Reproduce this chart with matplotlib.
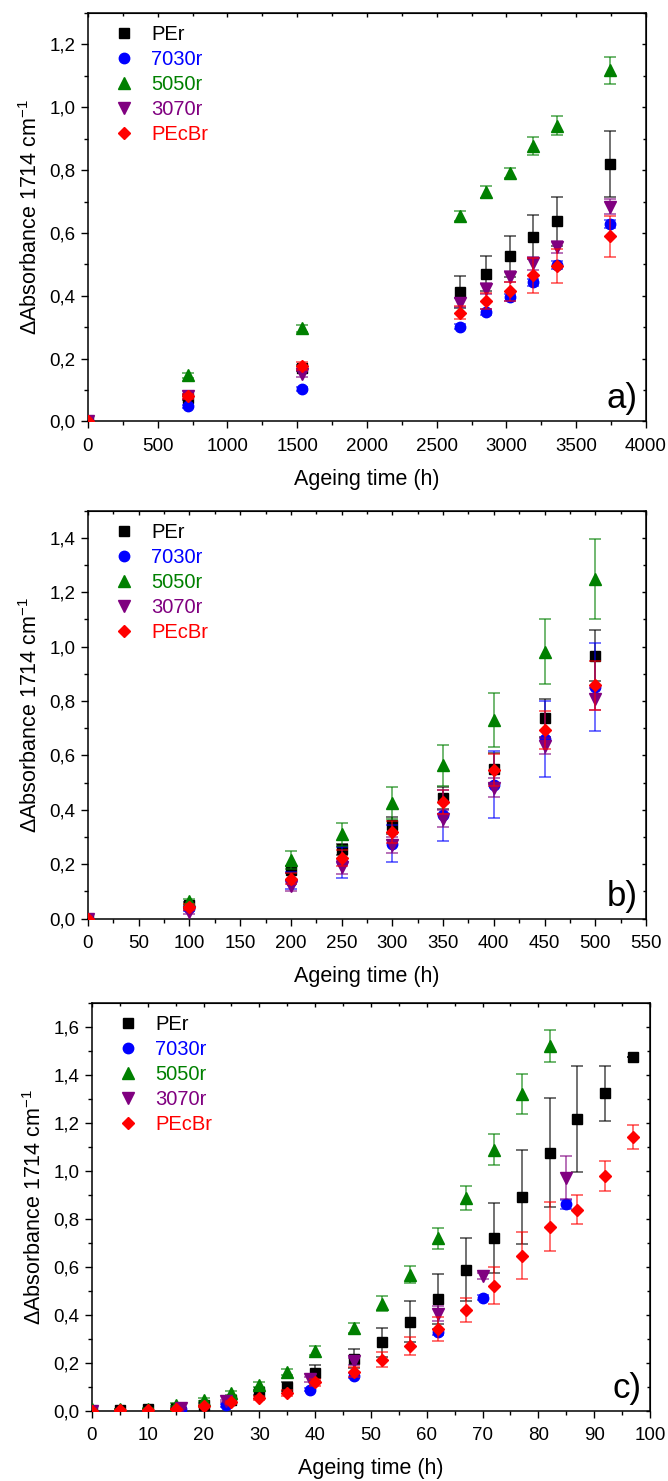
import numpy as np
import matplotlib
matplotlib.use('Agg')
import matplotlib.pyplot as plt
from matplotlib.lines import Line2D
from matplotlib.ticker import MultipleLocator, FuncFormatter
from matplotlib.colors import to_rgba

plt.rcParams['font.family'] = ['Liberation Sans', 'DejaVu Sans']
plt.rcParams['mathtext.fontset'] = 'custom'
plt.rcParams['mathtext.rm'] = 'Liberation Sans'
plt.rcParams['mathtext.it'] = 'Liberation Sans:italic'

# --- series styling (Origin-like) ---
names = ['PEr', '7030r', '5050r', '3070r', 'PEcBr']
colors = ['#000000', '#0000FF', '#008000', '#800080', '#FF0000']
markers = ['s', 'o', '^', 'v', 'D']
msizes = [7.0, 7.5, 8.5, 8.5, 6.5]

# --- panel a) : long ageing times ---
ta = [0, 720, 1536, 2664, 2856, 3024, 3192, 3360, 3744]
a_PEr = [0, 0.075, 0.17, 0.412, 0.471, 0.526, 0.586, 0.638, 0.819]
a_PEr_err = [0, 0.008, 0.01, 0.05, 0.056, 0.065, 0.07, 0.078, 0.104]
a_7030 = [0, 0.048, 0.104, 0.302, 0.348, 0.395, 0.443, 0.498, 0.629]
a_7030_err = [0, 0.005, 0.006, 0.008, 0.01, 0.012, 0.012, 0.012, 0.012]
a_5050 = [0, 0.147, 0.296, 0.654, 0.730, 0.791, 0.876, 0.941, 1.118]
a_5050_err = [0, 0.008, 0.012, 0.015, 0.018, 0.017, 0.028, 0.03, 0.043]
a_3070 = [0, 0.08, 0.152, 0.378, 0.423, 0.461, 0.503, 0.556, 0.684]
a_3070_err = [0, 0.008, 0.01, 0.015, 0.018, 0.018, 0.02, 0.02, 0.025]
a_PEcBr = [0, 0.08, 0.177, 0.346, 0.383, 0.414, 0.465, 0.495, 0.589]
a_PEcBr_err = [0, 0.008, 0.012, 0.02, 0.025, 0.03, 0.055, 0.054, 0.065]

# --- panel b) ---
tb = [0, 100, 200, 250, 300, 350, 400, 450, 500]
b_PEr = [0, 0.05, 0.18, 0.255, 0.343, 0.445, 0.552, 0.738, 0.967]
b_PEr_err = [0, 0.01, 0.012, 0.02, 0.03, 0.04, 0.057, 0.07, 0.093]
b_7030 = [0, 0.04, 0.14, 0.208, 0.276, 0.38, 0.493, 0.66, 0.852]
b_7030_err = [0, 0.01, 0.03, 0.057, 0.068, 0.093, 0.123, 0.14, 0.163]
b_5050 = [0, 0.064, 0.215, 0.31, 0.425, 0.564, 0.73, 0.981, 1.248]
b_5050_err = [0, 0.01, 0.033, 0.043, 0.06, 0.076, 0.098, 0.12, 0.146]
b_3070 = [0, 0.025, 0.121, 0.19, 0.27, 0.368, 0.481, 0.634, 0.807]
b_3070_err = [0, 0.008, 0.02, 0.025, 0.03, 0.03, 0.035, 0.03, 0.04]
b_PEcBr = [0, 0.043, 0.147, 0.223, 0.319, 0.429, 0.546, 0.695, 0.858]
b_PEcBr_err = [0, 0.01, 0.02, 0.03, 0.04, 0.045, 0.06, 0.07, 0.09]

# --- panel c) ---
tc = [0, 5, 10, 15, 20, 25, 30, 35, 40, 47, 52, 57, 62, 67, 72, 77, 82, 87, 92, 97]
c_PEr = [0, 0.003, 0.005, 0.01, 0.025, 0.045, 0.076, 0.1, 0.157, 0.217, 0.284,
         0.371, 0.464, 0.588, 0.72, 0.891, 1.074, 1.216, 1.322, 1.475]
c_PEr_err = [0, 0.002, 0.002, 0.003, 0.005, 0.008, 0.01, 0.02, 0.035, 0.04, 0.06,
             0.085, 0.105, 0.13, 0.147, 0.196, 0.227, 0.222, 0.116, 0]
tc_b = [0, 16, 24, 39, 47, 62, 70, 85]
c_7030 = [0, 0.008, 0.022, 0.088, 0.146, 0.328, 0.471, 0.859]
c_7030_err = [0, 0.003, 0.005, 0.006, 0.01, 0.012, 0.01, 0.02]
c_3070 = [0, 0.01, 0.04, 0.13, 0.205, 0.404, 0.56, 0.971]
c_3070_err = [0, 0.003, 0.005, 0.01, 0.015, 0.03, 0.012, 0.09]
tc_g = [0, 5, 10, 15, 20, 25, 30, 35, 40, 47, 52, 57, 62, 67, 72, 77, 82]
c_5050 = [0.005, 0.005, 0.008, 0.025, 0.045, 0.073, 0.108, 0.16, 0.25, 0.345,
          0.446, 0.567, 0.718, 0.885, 1.087, 1.318, 1.52]
c_5050_err = [0, 0.002, 0.003, 0.005, 0.006, 0.008, 0.01, 0.012, 0.02, 0.02,
              0.03, 0.035, 0.044, 0.05, 0.065, 0.084, 0.068]
c_PEcBr = [0, 0.001, 0.002, 0.005, 0.02, 0.035, 0.052, 0.075, 0.118, 0.16, 0.213,
           0.268, 0.34, 0.421, 0.521, 0.645, 0.767, 0.838, 0.978, 1.141]
c_PEcBr_err = [0, 0.001, 0.002, 0.003, 0.005, 0.006, 0.008, 0.012, 0.015, 0.02, 0.03,
               0.037, 0.05, 0.05, 0.078, 0.098, 0.103, 0.062, 0.062, 0.05]

panels = [
    dict(x=[ta, ta, ta, ta, ta],
         y=[a_PEr, a_7030, a_5050, a_3070, a_PEcBr],
         e=[a_PEr_err, a_7030_err, a_5050_err, a_3070_err, a_PEcBr_err],
         xlim=(0, 4000), ylim=(0, 1.3), xmaj=500, xmin=250, tag='a)',
         rect=[0.1317, 0.7154, 0.8353, 0.2758]),
    dict(x=[tb, tb, tb, tb, tb],
         y=[b_PEr, b_7030, b_5050, b_3070, b_PEcBr],
         e=[b_PEr_err, b_7030_err, b_5050_err, b_3070_err, b_PEcBr_err],
         xlim=(0, 550), ylim=(0, 1.5), xmaj=50, xmin=25, tag='b)',
         rect=[0.1317, 0.3797, 0.8353, 0.2755]),
    dict(x=[tc, tc_b, tc_g, tc_b, tc],
         y=[c_PEr, c_7030, c_5050, c_3070, c_PEcBr],
         e=[c_PEr_err, c_7030_err, c_5050_err, c_3070_err, c_PEcBr_err],
         xlim=(0, 100), ylim=(0, 1.7), xmaj=10, xmin=5, tag='c)',
         rect=[0.1377, 0.0475, 0.8353, 0.2755]),
]

comma = FuncFormatter(lambda v, p: f'{v:.1f}'.replace('.', ','))

fig = plt.figure(figsize=(6.68, 14.81), dpi=100)

for p in panels:
    ax = fig.add_axes(p['rect'])
    for i in range(5):
        ax.errorbar(p['x'][i], p['y'][i], yerr=p['e'][i], fmt=markers[i],
                    color=colors[i], ms=msizes[i], mec=colors[i],
                    ecolor=to_rgba(colors[i], 0.65), elinewidth=1.2,
                    capsize=4.5, capthick=1.2, zorder=3 + i)
    ax.set_xlim(*p['xlim'])
    ax.set_ylim(*p['ylim'])
    ax.xaxis.set_major_locator(MultipleLocator(p['xmaj']))
    ax.xaxis.set_minor_locator(MultipleLocator(p['xmin']))
    ax.yaxis.set_major_locator(MultipleLocator(0.2))
    ax.yaxis.set_minor_locator(MultipleLocator(0.1))
    ax.yaxis.set_major_formatter(comma)
    ax.tick_params(which='major', direction='out', length=5, width=1,
                   labelsize=13.5, pad=7)
    ax.tick_params(which='minor', direction='out', length=3, width=1)
    ax.tick_params(axis='y', which='major', pad=4)
    for s in ax.spines.values():
        s.set_linewidth(1.1)

    # mirrored inner ticks on top / right
    top = ax.secondary_xaxis('top')
    top.xaxis.set_major_locator(MultipleLocator(p['xmaj']))
    top.xaxis.set_minor_locator(MultipleLocator(p['xmin']))
    top.tick_params(which='both', direction='in', labeltop=False, width=1)
    top.tick_params(which='major', length=3)
    top.tick_params(which='minor', length=2)
    right = ax.secondary_yaxis('right')
    right.yaxis.set_major_locator(MultipleLocator(0.2))
    right.yaxis.set_minor_locator(MultipleLocator(0.1))
    right.tick_params(which='both', direction='in', labelright=False, width=1)
    right.tick_params(which='major', length=3)
    right.tick_params(which='minor', length=2)

    ax.set_xlabel('Ageing time (h)', fontsize=15.5, labelpad=10)
    ax.set_ylabel('\u0394Absorbance 1714 cm$^{-1}$', fontsize=15.5, labelpad=5)

    handles = [Line2D([], [], ls='none', marker=markers[i], color=colors[i],
                      ms=msizes[i]) for i in range(5)]
    leg = ax.legend(handles, names, loc='upper left', bbox_to_anchor=(0.025, 1.0),
                    frameon=False, fontsize=14.5, labelspacing=0.3,
                    handlelength=1.0, handletextpad=0.85, borderaxespad=0.2)
    for txt, c in zip(leg.get_texts(), colors):
        txt.set_color(c)

    ax.text(0.985, 0.015, p['tag'], transform=ax.transAxes, ha='right',
            va='bottom', fontsize=25)

fig.savefig('out.png', dpi=100)
